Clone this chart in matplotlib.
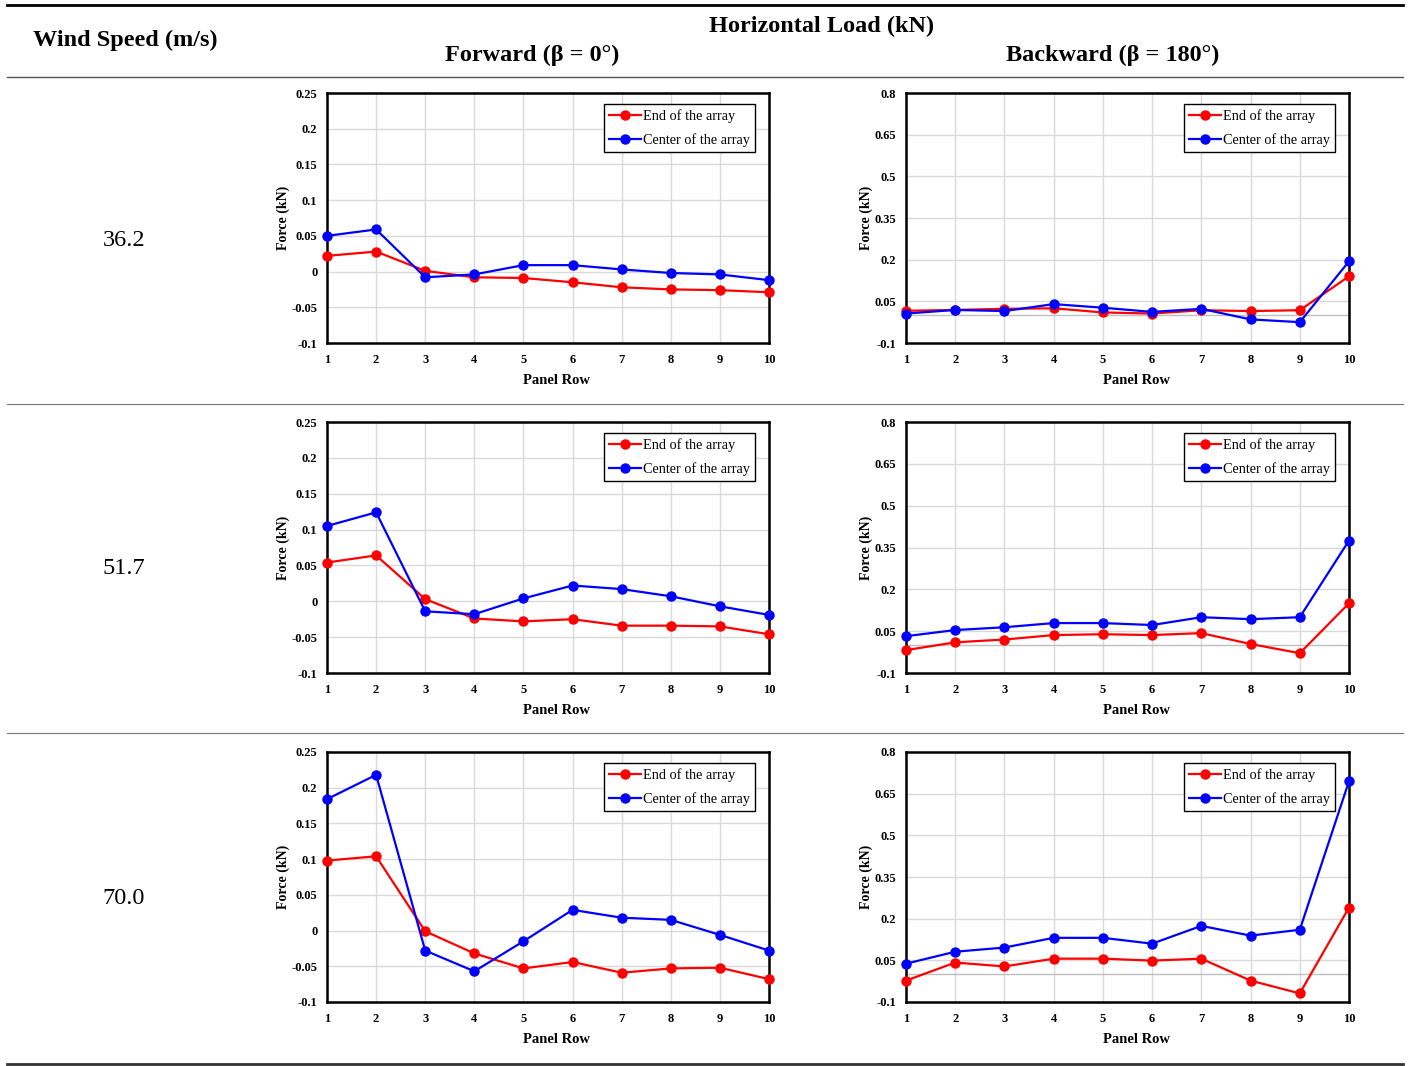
import matplotlib
matplotlib.use("Agg")
import matplotlib.pyplot as plt
from matplotlib.lines import Line2D

rows = [1, 2, 3, 4, 5, 6, 7, 8, 9, 10]
wind_speeds = ["36.2", "51.7", "70.0"]

fwd_end_36 = [0.022, 0.028, 0.001, -0.008, -0.009, -0.015, -0.022, -0.025, -0.026, -0.029]
fwd_ctr_36 = [0.050, 0.059, -0.008, -0.004, 0.009, 0.009, 0.003, -0.002, -0.004, -0.012]
bwd_end_36 = [0.016, 0.019, 0.023, 0.025, 0.010, 0.006, 0.018, 0.015, 0.018, 0.140]
bwd_ctr_36 = [0.006, 0.019, 0.015, 0.040, 0.027, 0.012, 0.023, -0.015, -0.025, 0.194]

fwd_end_51 = [0.054, 0.064, 0.003, -0.024, -0.028, -0.025, -0.034, -0.034, -0.035, -0.046]
fwd_ctr_51 = [0.105, 0.124, -0.014, -0.018, 0.004, 0.022, 0.017, 0.007, -0.007, -0.019]
bwd_end_51 = [-0.018, 0.010, 0.020, 0.036, 0.039, 0.036, 0.043, 0.004, -0.029, 0.150]
bwd_ctr_51 = [0.032, 0.054, 0.064, 0.079, 0.079, 0.072, 0.100, 0.093, 0.100, 0.375]

fwd_end_70 = [0.098, 0.104, -0.001, -0.032, -0.053, -0.044, -0.059, -0.053, -0.052, -0.068]
fwd_ctr_70 = [0.184, 0.218, -0.028, -0.057, -0.015, 0.029, 0.018, 0.015, -0.006, -0.028]
bwd_end_70 = [-0.023, 0.042, 0.028, 0.056, 0.056, 0.049, 0.056, -0.023, -0.069, 0.240]
bwd_ctr_70 = [0.038, 0.081, 0.096, 0.131, 0.131, 0.110, 0.174, 0.139, 0.160, 0.695]

fwd_ticks = [-0.1, -0.05, 0, 0.05, 0.1, 0.15, 0.2, 0.25]
fwd_labels = ["-0.1", "-0.05", "0", "0.05", "0.1", "0.15", "0.2", "0.25"]
bwd_ticks = [-0.1, 0.05, 0.2, 0.35, 0.5, 0.65, 0.8]
bwd_labels = ["-0.1", "0.05", "0.2", "0.35", "0.5", "0.65", "0.8"]

series_names = ["End of the array", "Center of the array"]

W, H = 1408, 1066
fig = plt.figure(figsize=(W / 100, H / 100), dpi=100)
SERIF = "Liberation Serif"

def fx(x):
    return x / W

def fy(y):
    return 1 - y / H

def hline(y, x0=7, x1=1403, lw=1.0, color="#444444"):
    fig.add_artist(Line2D([fx(x0), fx(x1)], [fy(y), fy(y)], transform=fig.transFigure,
                          color=color, lw=lw))

hline(5, lw=2.0, color="black")
hline(77, lw=1.0, color="#555555")
hline(404, lw=0.8, color="#777777")
hline(733, lw=0.8, color="#777777")
hline(1064, lw=2.0, color="#333333")

hdr = dict(family=SERIF, fontweight="bold", fontsize=17.5, ha="center", va="center")
fig.text(fx(125), fy(40), "Wind Speed (m/s)", **hdr)
fig.text(fx(822), fy(26), "Horizontal Load (kN)", **hdr)
fig.text(fx(532), fy(55), "Forward (β = 0°)", **hdr)
fig.text(fx(1113), fy(55), "Backward (β = 180°)", **hdr)

row_y = [240, 568, 898]
for ws, yy in zip(wind_speeds, row_y):
    fig.text(fx(124), fy(yy), ws, family=SERIF, fontsize=17.5, ha="center", va="center")

panels = [
    (fwd_end_36, fwd_ctr_36, "fwd", 93, 343),
    (bwd_end_36, bwd_ctr_36, "bwd", 93, 343),
    (fwd_end_51, fwd_ctr_51, "fwd", 422, 673),
    (bwd_end_51, bwd_ctr_51, "bwd", 422, 673),
    (fwd_end_70, fwd_ctr_70, "fwd", 752, 1002),
    (bwd_end_70, bwd_ctr_70, "bwd", 752, 1002),
]

for end, ctr, kind, top, bot in panels:
    if kind == "fwd":
        left, right = 327, 769
    else:
        left, right = 906, 1349
    ax = fig.add_axes([fx(left), fy(bot), fx(right - left), (bot - top) / H])
    ax.set_xlim(1, 10)
    if kind == "fwd":
        ax.set_ylim(-0.1, 0.25)
        ax.set_yticks(fwd_ticks)
        ax.set_yticklabels(fwd_labels)
    else:
        ax.set_ylim(-0.1, 0.8)
        ax.set_yticks(bwd_ticks)
        ax.set_yticklabels(bwd_labels)
        ax.axhline(0, color="#bfbfbf", lw=1.0, zorder=1)
    ax.set_xticks(rows)
    ax.set_xticklabels([str(r) for r in rows])
    ax.grid(True, color="#d9d9d9", lw=1.0, zorder=0)
    ax.set_axisbelow(True)
    ax.plot(rows, end, color="#ff0000", lw=1.6, marker="o", ms=6.5, label=series_names[0],
            zorder=3, clip_on=False)
    ax.plot(rows, ctr, color="#0000ff", lw=1.6, marker="o", ms=6.5, label=series_names[1],
            zorder=3, clip_on=False)
    for s in ax.spines.values():
        s.set_linewidth(1.8)
        s.set_color("black")
    ax.tick_params(axis="x", length=0, pad=8)
    ax.tick_params(axis="y", length=0, pad=7)
    for lab in ax.get_xticklabels() + ax.get_yticklabels():
        lab.set_fontfamily(SERIF)
        lab.set_fontweight("bold")
        lab.set_fontsize(9)
    ax.set_xlabel("Panel Row", family=SERIF, fontweight="bold", fontsize=10.5)
    ax.xaxis.set_label_coords(0.52, -0.125)
    ax.set_ylabel("Force (kN)", family=SERIF, fontweight="bold", fontsize=10, labelpad=1)
    leg = ax.legend(loc="upper right", bbox_to_anchor=(0.968, 0.956), borderaxespad=0,
                    fancybox=False, edgecolor="black", framealpha=1, handlelength=2.2,
                    handletextpad=0.15, borderpad=0.35, labelspacing=0.7,
                    prop={"family": SERIF, "size": 10.3})
    leg.get_frame().set_linewidth(1.0)

fig.savefig("out.png", dpi=100)
